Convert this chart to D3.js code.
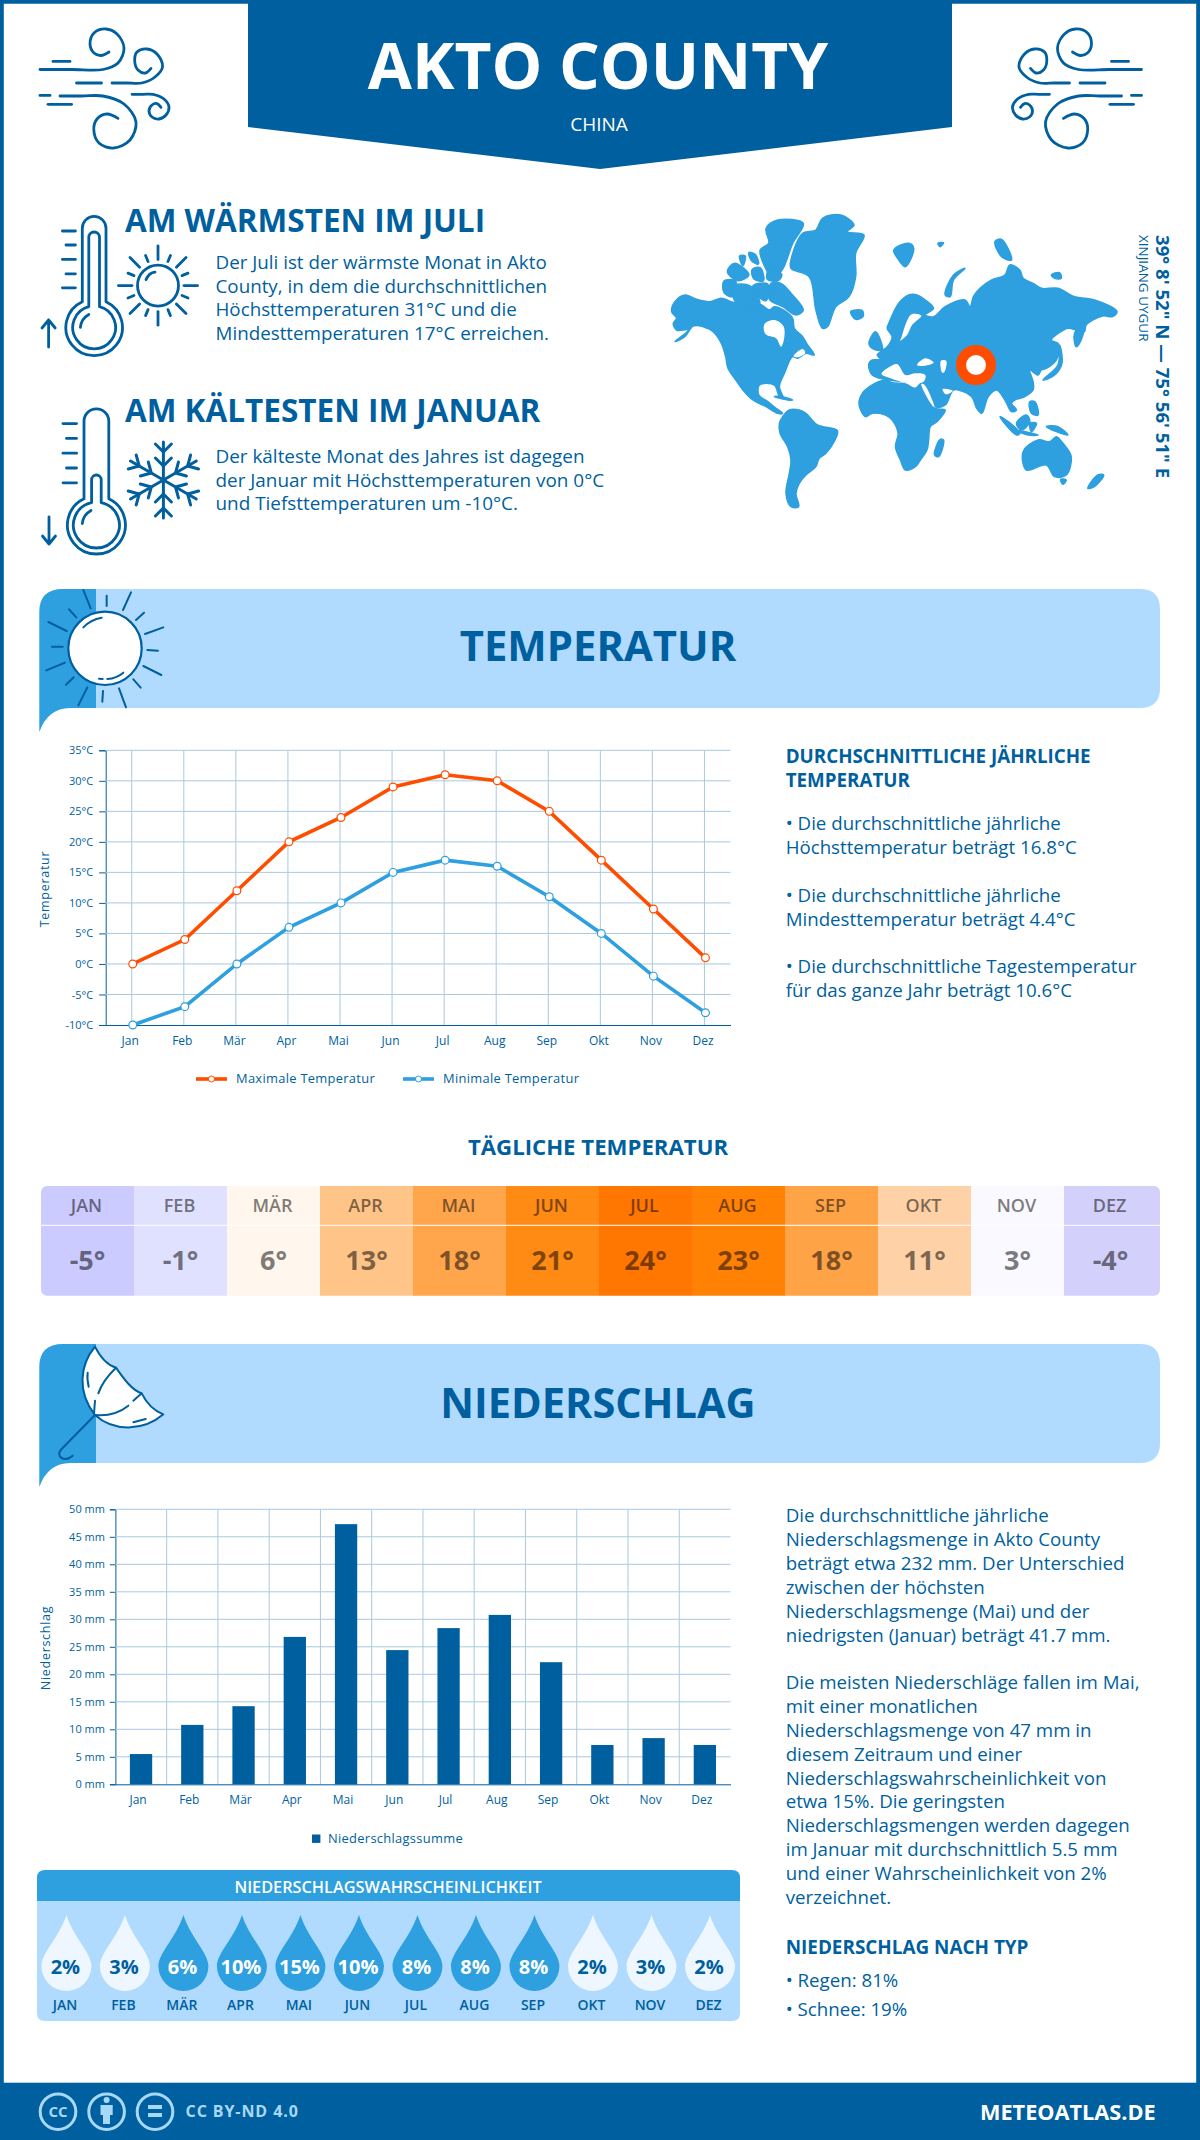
<!DOCTYPE html>
<html><head><meta charset="utf-8">
<script src="https://cdn.jsdelivr.net/npm/d3@7/dist/d3.min.js"></script>
<style>
html,body{margin:0;padding:0;background:#fff}
svg{display:block}
text{font-family:"Open Sans",sans-serif}
</style></head><body>
<svg id="c" width="1200" height="2140" viewBox="0 0 1200 2140"></svg>
<script>
// ---------- data ----------
const monthsShort = ["Jan","Feb","Mär","Apr","Mai","Jun","Jul","Aug","Sep","Okt","Nov","Dez"];
const monthsUpper = ["JAN","FEB","MÄR","APR","MAI","JUN","JUL","AUG","SEP","OKT","NOV","DEZ"];
const tempMax = [0,4,12,20,24,29,31,30,25,17,9,1];
const tempMin = [-10,-7,0,6,10,15,17,16,11,5,-2,-8];
const tempTicks = [-10,-5,0,5,10,15,20,25,30,35];
const dailyTemp = [-5,-1,6,13,18,21,24,23,18,11,3,-4];
const dailyColors = ["#cccbff","#e0e0ff","#fff6ed","#ffc488","#ffa64d","#ff8a14","#ff7700","#ff8205","#ffa347","#ffd1a6","#f9f9ff","#d3d1fc"];
const precip = [5.5,10.8,14.2,26.8,47.3,24.4,28.4,30.8,22.2,7.15,8.4,7.15];
const precipTicks = [0,5,10,15,20,25,30,35,40,45,50];
const precipProb = [2,3,6,10,15,10,8,8,8,2,3,2];
const warmLines = ["Der Juli ist der wärmste Monat in Akto","County, in dem die durchschnittlichen","Höchsttemperaturen 31°C und die","Mindesttemperaturen 17°C erreichen."];
const coldLines = ["Der kälteste Monat des Jahres ist dagegen","der Januar mit Höchsttemperaturen von 0°C","und Tiefsttemperaturen um -10°C."];
const tempText = [["• Die durchschnittliche jährliche",830],["Höchsttemperatur beträgt 16.8°C",854],["• Die durchschnittliche jährliche",901.7],["Mindesttemperatur beträgt 4.4°C",925.7],["• Die durchschnittliche Tagestemperatur",972.7],["für das ganze Jahr beträgt 10.6°C",996.7]];
const rainText = [["Die durchschnittliche jährliche",1522.4],["Niederschlagsmenge in Akto County",1546.2],["beträgt etwa 232 mm. Der Unterschied",1570],["zwischen der höchsten",1594],["Niederschlagsmenge (Mai) und der",1617.8],["niedrigsten (Januar) beträgt 41.7 mm.",1641.6],
["Die meisten Niederschläge fallen im Mai,",1689.4],["mit einer monatlichen",1713.2],["Niederschlagsmenge von 47 mm in",1737],["diesem Zeitraum und einer",1760.8],["Niederschlagswahrscheinlichkeit von",1784.6],["etwa 15%. Die geringsten",1808.4],["Niederschlagsmengen werden dagegen",1832.2],["im Januar mit durchschnittlich 5.5 mm",1856],["und einer Wahrscheinlichkeit von 2%",1879.8],["verzeichnet.",1903.6],
["• Regen: 81%",1986.5],["• Schnee: 19%",2015.5]];

const BLUE="#005f9e", MID="#2e9fdf", LIGHT="#b0dbff", ORANGE="#ff4d00", GRID="#a9c9e0";
const svg=d3.select("#c");
svg.append("rect").attr("width",1200).attr("height",2140).attr("fill","#fff");
const T=(g,x,y,s,size,w,fill,anchor)=>g.append("text").attr("x",x).attr("y",y).text(s).attr("font-size",size).attr("font-weight",w||400).attr("fill",fill||BLUE).attr("text-anchor",anchor||"start");

// ---------- frame & header ----------
svg.append("path").attr("d","M1.9,2140V1.9H1198.1V2140").attr("fill","none").attr("stroke",BLUE).attr("stroke-width",3.8);
svg.append("path").attr("d","M248,0H952V127L600,169L248,127Z").attr("fill",BLUE);
T(svg,598,88.8,"AKTO COUNTY",64,700,"#fff","middle");
T(svg,599,130.5,"CHINA",19,400,"#fff","middle");

// ---------- icons ----------
const curve=d3.line().curve(d3.curveCatmullRom.alpha(.5));
function stroke(g,d,w){return g.append("path").attr("d",d).attr("fill","none").attr("stroke",BLUE).attr("stroke-width",w||2.8).attr("stroke-linecap","round").attr("stroke-linejoin","round");}
function wind(g){
 [[[40,69.5],[72,69.5],[103,69.5],[118,63],[124,48],[117,34],[106,29],[94,33],[90,44],[94,53],[101,55.5],[109,52]],
  [[112,83],[127,83],[141.6,83],[155,77],[162.6,66.6],[157,54],[147,49],[137,52],[134.7,61],[138,70],[145.4,73],[151,68.4]],
  [[60,96],[82,96],[103,96],[124,104],[136,122],[130,140],[113.6,148],[99,143],[93.8,129.5],[97,119],[107,114],[118,118.4]],
  [[132,94.3],[143,94.3],[153,94.3],[164,99],[169,107],[166,115],[159,119],[152,117],[149,111],[152,105],[157,103.6],[161,107.3]],
  [[53,61.4],[70,61.4]],[[76.5,83],[101.5,83]],[[40,95.4],[50,95.4]],[[48,104.3],[71.6,104.3]]
 ].forEach(p=>stroke(g,curve(p)));
}
wind(svg.append("g"));
wind(svg.append("g").attr("transform","translate(1181.5,0) scale(-1,1)"));

function thermo(g,cx,cy,R,r,hw,hwi,top,itop,cxo){
 const dy=Math.sqrt(R*R-hw*hw), dyi=Math.sqrt(r*r-hwi*hwi), tx=cx+(cxo||0);
 stroke(g,`M${tx-hw},${cy-dy}V${top+hw}A${hw},${hw} 0 0 1 ${tx+hw},${top+hw}V${cy-dy}A${R},${R} 0 1 1 ${tx-hw},${cy-dy}`);
 stroke(g,`M${tx-hwi},${cy-dyi}V${itop+hwi}A${hwi},${hwi} 0 0 1 ${tx+hwi},${itop+hwi}V${cy-dyi}A${r},${r} 0 1 1 ${tx-hwi},${cy-dyi}`);
}
thermo(svg,93.8,327.4,28.3,21.4,11.85,5.35,216.4,232,.35);
stroke(svg,"M88.8,314.5Q81,319 80.4,327.4");
[[62.4,231],[66,245],[62.4,259.4],[66,273.8],[62.4,287.8]].forEach(d=>stroke(svg,`M${d[0]},${d[1]}H75.4`));
stroke(svg,"M48.6,347V320M42,328L48.6,320L55.2,328");
// small sun
(function(){const g=svg.append("g").attr("transform","translate(158,285.6)");
 g.append("circle").attr("r",20.5).attr("fill","none").attr("stroke",BLUE).attr("stroke-width",2.8);
 stroke(g,"M-12,-6Q-9,-13 -3,-13.5");
 d3.range(16).forEach(i=>{const a=i*Math.PI/8,l=i%2==0;const r1=26,r2=l?39.6:32.5;
  stroke(g,`M${r1*Math.cos(a)},${r1*Math.sin(a)}L${r2*Math.cos(a)},${r2*Math.sin(a)}`);});
})();
thermo(svg,96.4,525,29,23,12.4,4.8,408.8,475,0);
stroke(svg,"M91,510.5Q83,515 82.3,523.5");
[[63,423.6],[66.5,438.4],[63,453.2],[66.5,468],[63,482.8]].forEach(d=>stroke(svg,`M${d[0]},${d[1]}H76.5`));
stroke(svg,"M49,517V544M42.5,536L49,544L55.5,536");
// snowflake
(function(){const g=svg.append("g").attr("transform","translate(163.4,480)");
 d3.range(6).forEach(i=>{const a=g.append("g").attr("transform",`rotate(${i*60})`);
  stroke(a,"M0,0V-38",3);stroke(a,"M-8,-36L0,-28L8,-36",3);stroke(a,"M-8,-22L0,-14L8,-22",3);});
})();

// ---------- warm / cold texts ----------
T(svg,125,231.6,"AM WÄRMSTEN IM JULI",31.5,700);
warmLines.forEach((s,i)=>T(svg,215.5,269+i*23.6,s,18.8));
T(svg,125,421.7,"AM KÄLTESTEN IM JANUAR",31.5,700);
coldLines.forEach((s,i)=>T(svg,215.5,463+i*23.5,s,18.9));

// ---------- world map (traced outlines, zoom-image coordinates) ----------
const landNA=[[35,335],[45,305],[75,285],[110,298],[150,305],[185,295],[215,305],[245,312],[300,312],[330,330],[345,320],[372,330],[400,355],[405,385],[430,410],[445,435],[465,465],[440,460],[415,475],[400,470],[375,520],[360,560],[372,595],[360,590],[345,555],[300,555],[298,585],[325,605],[350,625],[370,640],[355,640],[320,620],[280,600],[250,570],[225,535],[205,505],[198,470],[185,430],[160,395],[130,380],[100,378],[75,410],[45,425],[85,390],[50,390],[40,370],[50,355]];
const landArctic=[[[335,250],[365,250],[395,280],[432,330],[410,345],[370,320],[330,298]],[[320,85],[355,60],[432,70],[400,130],[368,210],[340,232],[302,150],[328,130]],[[193,243],[228,243],[218,290],[193,278]],[[220,258],[272,258],[300,312],[230,308]],[[203,215],[225,190],[268,225],[235,242]],[[278,208],[302,203],[312,242],[283,237]],[[328,210],[367,223],[357,242],[323,237]],[[280,258],[325,252],[320,302],[300,292]],[[240,168],[257,168],[250,197]],[[268,158],[287,163],[297,192],[276,182]]];
const landGreen=[[395,180],[430,100],[470,90],[490,55],[545,45],[585,75],[565,95],[615,105],[590,160],[590,230],[570,290],[530,320],[505,380],[490,385],[470,330],[450,230],[395,205]];
const landSA=[[360,670],[370,650],[390,630],[420,630],[440,640],[475,675],[535,692],[525,725],[500,760],[480,775],[470,800],[440,825],[420,850],[410,880],[418,920],[395,920],[380,880],[390,820],[395,780],[385,740],[362,700]];
const landAfrica=[[600,605],[610,580],[640,555],[680,540],[700,548],[740,552],[770,565],[790,548],[810,590],[830,625],[860,630],[835,665],[815,680],[810,720],[805,750],[785,780],[770,800],[740,810],[725,780],[710,740],[718,700],[700,660],[680,645],[640,640],[620,650],[605,630]];
const landEurasia=[[630,490],[640,480],[665,478],[655,465],[680,445],[690,435],[700,410],[685,385],[690,370],[720,310],[750,285],[775,285],[800,300],[825,325],[800,345],[825,350],[860,320],[920,300],[935,320],[945,290],[965,265],[1000,240],[1040,225],[1055,195],[1085,210],[1095,235],[1125,250],[1150,265],[1200,265],[1250,290],[1310,300],[1378,335],[1365,350],[1335,348],[1285,375],[1280,395],[1255,390],[1230,385],[1180,420],[1200,430],[1205,450],[1195,480],[1165,505],[1150,510],[1140,525],[1115,510],[1125,545],[1125,570],[1100,590],[1070,600],[1060,610],[1075,630],[1060,635],[1040,600],[1015,570],[990,590],[970,640],[955,625],[940,590],[915,575],[885,570],[860,615],[830,620],[800,560],[790,545],[735,545],[640,525]];
const landIslands=[[[630,430],[650,395],[670,450],[640,445]],[[860,285],[885,225],[920,205],[885,240],[875,290]],[[705,150],[750,130],[765,145],[740,200],[720,180]],[[838,130],[855,128],[845,140]],[[1010,125],[1030,118],[1060,180],[1030,170]],[[1180,225],[1205,218],[1210,235],[1190,235]],[[1250,400],[1280,370],[1270,420],[1255,440]],[[1155,540],[1200,495],[1205,435],[1212,490],[1190,525]],[[575,335],[610,332],[612,350],[590,358]],[[845,718],[855,720],[840,770],[828,765]],[[1025,650],[1050,665],[1085,700],[1075,705]],[[1075,670],[1105,645],[1115,665],[1090,690]],[[1070,690],[1140,705],[1110,705]],[[1165,680],[1200,680],[1230,705],[1195,695]],[[1115,605],[1130,605],[1140,645],[1120,640]],[[1115,670],[1135,670],[1120,695]],[[1095,755],[1140,720],[1175,725],[1195,710],[1215,730],[1240,770],[1225,825],[1190,830],[1165,795],[1105,810]],[[1208,838],[1225,840],[1215,853]],[[1290,865],[1320,825],[1338,825],[1310,860]],[[345,590],[385,600],[400,600],[370,590]]];
const waters=[[[315,372],[345,360],[372,378],[375,410],[365,440],[350,415],[318,402]],[[775,495],[800,475],[825,488],[790,498]],[[847,482],[863,482],[858,515],[851,518]],[[668,522],[690,502],[715,492],[740,525],[770,520],[800,525],[795,545],[740,548],[695,535]],[[788,552],[798,555],[828,622],[815,608]],[[852,567],[883,572],[862,583]],[[728,412],[745,362],[760,342],[788,347],[760,375],[745,405],[724,422]],[[403,468],[430,447],[438,458],[415,472]]];
const mapX=d3.scaleLinear().domain([0,1568]).range([660,1180]), mapY=d3.scaleLinear().domain([0,960]).range([200,520]);
const mapLine=d3.line().x(d=>mapX(d[0])).y(d=>mapY(d[1])).curve(d3.curveCatmullRomClosed.alpha(.5));
const gm=svg.append("g");
[landNA,...landArctic,landGreen,landSA,landAfrica,landEurasia,...landIslands].forEach(p=>gm.append("path").attr("d",mapLine(p)).attr("fill",MID).attr("stroke",MID).attr("stroke-width",1.5).attr("stroke-linejoin","round"));
waters.forEach(p=>gm.append("path").attr("d",mapLine(p)).attr("fill","#fff"));
gm.append("circle").attr("cx",976).attr("cy",365).attr("r",15).attr("fill","#fff").attr("stroke",ORANGE).attr("stroke-width",10);
T(svg.append("g").attr("transform","translate(1156,235) rotate(90)"),0,0,"39° 8' 52\" N — 75° 56' 51\" E",18.6,700);
T(svg.append("g").attr("transform","translate(1139,235) rotate(90)"),0,0,"XINJIANG UYGUR",13.5,400);

// ---------- banners ----------
function banner(top,title,base,size){
 const bot=top+119;
 svg.append("path").attr("d",`M96,${top}H1140Q1160,${top} 1160,${top+20}V${bot-20}Q1160,${bot} 1140,${bot}H96Z`).attr("fill",LIGHT);
 svg.append("path").attr("d",`M39.3,${top+23}Q39.3,${top} 63,${top}H96V${bot}H70Q48,${bot} 39.3,${bot+24}Z`).attr("fill",MID);
 T(svg,598,base,title,size,700,BLUE,"middle");
}
banner(589,"TEMPERATUR",661,41.8);
banner(1344,"NIEDERSCHLAG",1418.3,41.5);
// banner sun
(function(){const Z=(x,y)=>[30+x/3,580+y/3];
 svg.append("circle").attr("cx",105).attr("cy",648.3).attr("r",36.7).attr("fill","#fff").attr("stroke",BLUE).attr("stroke-width",2.2);
 [[160,30,182,85],[230,47,230,78],[303,37,279,90],[342,98,318,120],[400,142,345,162],[352,210,384,212],[340,258,394,285],[310,298,332,323],[267,325,288,382],[219,333,217,365],[172,322,145,376],[131,292,108,314],[105,248,49,271],[98,200,66,200],[110,153,55,126],[139,112,117,88]]
 .forEach(r=>{const a=Z(r[0],r[1]),b=Z(r[2],r[3]);stroke(svg,`M${a}L${b}`,2);});
 stroke(svg,`M${Z(160,142)}Q${Z(183,118)} ${Z(215,113)}`,2);
 stroke(svg,`M${Z(232,297)}Q${Z(260,295)} ${Z(280,278)}`,2);
 stroke(svg,`M${Z(207,296)}L${Z(218,297)}`,2);
})();
// banner umbrella
(function(){const Z=(x,y)=>[30+x/3,1335+y/3];
 const pts=s=>s.replace(/(-?\d+),(-?\d+)/g,(m,a,b)=>Z(+a,+b).join(","));
 svg.append("path").attr("d",pts("M195,35C150,90 140,170 195,240C250,290 340,290 400,238C365,225 345,195 335,175C305,165 280,130 258,98C230,90 210,65 195,35Z")).attr("fill","#fff").attr("stroke",BLUE).attr("stroke-width",2).attr("stroke-linejoin","round");
 ["M258,98C235,120 215,145 205,175","M335,175L310,197","M295,212C270,232 235,243 197,240","M195,197L192,235","M173,113C171,127 173,142 176,155","M310,262L347,252","M195,240L92,345C78,362 100,385 128,362"]
 .forEach(d=>stroke(svg,pts(d),2));
})();

// ---------- temperature chart ----------
const gT=svg.append("g");
const xT=d3.scalePoint().domain(monthsShort).range([105.7,730.5]).padding(.5);
const yT=d3.scaleLinear().domain([-10,35]).range([1025,750.3]);
gT.append("g").attr("transform","translate(105.7,0)")
  .call(d3.axisLeft(yT).tickValues(tempTicks).tickSize(6.5).tickPadding(4).tickFormat(d=>d+"°C"))
  .call(g=>{g.selectAll("text").attr("font-size",11).attr("fill",BLUE).attr("font-family","Open Sans").attr("dx",-2);
            g.selectAll("line").attr("stroke",BLUE);g.select(".domain").attr("stroke",BLUE);});
gT.append("g").selectAll("line").data(tempTicks.filter(d=>d>-10)).join("line").attr("x1",105.7).attr("x2",730.5).attr("y1",d=>yT(d)).attr("y2",d=>yT(d)).attr("stroke",GRID);
gT.append("g").selectAll("line").data(monthsShort).join("line").attr("x1",d=>xT(d)).attr("x2",d=>xT(d)).attr("y1",750.3).attr("y2",1025).attr("stroke",GRID);
gT.append("g").attr("transform","translate(0,1025)")
  .call(d3.axisBottom(xT).tickSize(0).tickPadding(11))
  .call(g=>{g.selectAll("text").attr("font-size",12).attr("fill",BLUE).attr("font-family","Open Sans").attr("dx",-2);
            g.select(".domain").attr("stroke",BLUE);});
const lineT=d3.line().x((d,i)=>xT(monthsShort[i])+1).y(d=>yT(d));
[[tempMax,ORANGE],[tempMin,MID]].forEach(([s,c])=>{
 gT.append("path").attr("d",lineT(s)).attr("fill","none").attr("stroke",c).attr("stroke-width",3.6);
 gT.append("g").selectAll("circle").data(s).join("circle").attr("cx",(d,i)=>xT(monthsShort[i])+1).attr("cy",d=>yT(d)).attr("r",3.9).attr("fill","#fff").attr("stroke",c).attr("stroke-width",1.2);
});
T(svg.append("g").attr("transform","translate(49,889) rotate(-90)"),0,0,"Temperatur",12.5,400,BLUE,"middle").attr("letter-spacing",.7);
[[196,236,"Maximale Temperatur",ORANGE],[403,443,"Minimale Temperatur",MID]].forEach(([x,tx,s,c])=>{
 gT.append("line").attr("x1",x).attr("x2",x+31).attr("y1",1079).attr("y2",1079).attr("stroke",c).attr("stroke-width",3.6);
 gT.append("circle").attr("cx",x+15.5).attr("cy",1079).attr("r",3).attr("fill","#fff").attr("stroke",c);
 T(gT,tx,1083,s,12.9).attr("letter-spacing",.3);
});
// right text temp
T(svg,785.7,763.3,"DURCHSCHNITTLICHE JÄHRLICHE",18.8,700);
T(svg,785.7,787.3,"TEMPERATUR",18.8,700);
tempText.forEach(d=>T(svg,785.7,d[1],d[0],18.7));

// ---------- daily heat strip ----------
T(svg,598,1155,"TÄGLICHE TEMPERATUR",22.2,700,BLUE,"middle");
const xH=d3.scaleBand().domain(monthsUpper).range([41,1157]);
svg.append("clipPath").attr("id","hc").append("rect").attr("x",41).attr("y",1186).attr("width",1119).attr("height",109.7).attr("rx",6);
const gH=svg.append("g").attr("clip-path","url(#hc)");
gH.selectAll("rect").data(monthsUpper).join("rect").attr("x",d=>xH(d)).attr("y",1186).attr("width",(d,i)=>xH.bandwidth()+(i==11?3:.5)).attr("height",110).attr("fill",(d,i)=>dailyColors[i]);
gH.append("line").attr("x1",41).attr("x2",1160).attr("y1",1225.3).attr("y2",1225.3).attr("stroke","#fff");
monthsUpper.forEach((m,i)=>{
 const cx=xH(m)+xH.bandwidth()/2;
 T(svg,cx-1,1211.7,m,18,600,"#000","middle").attr("opacity",.5);
 T(svg,cx,1270,dailyTemp[i]+"°",27,700,"#000","middle").attr("opacity",.5);
});

// ---------- precipitation chart ----------
const gP=svg.append("g");
const xP=d3.scaleBand().domain(monthsShort).range([115.4,730.5]).paddingInner(.565).paddingOuter(.2825);
const yP=d3.scaleLinear().domain([0,50]).range([1784.3,1509.3]);
gP.append("g").attr("transform","translate(115.4,0)")
  .call(d3.axisLeft(yP).tickValues(precipTicks).tickSize(5.5).tickPadding(4).tickFormat(d=>d+" mm"))
  .call(g=>{g.selectAll("text").attr("font-size",11).attr("fill",BLUE).attr("font-family","Open Sans").attr("dx",-1);
            g.selectAll("line").attr("stroke",BLUE);g.select(".domain").attr("stroke",BLUE);});
gP.append("g").selectAll("line").data(precipTicks.filter(d=>d>0)).join("line").attr("x1",115.4).attr("x2",730.5).attr("y1",d=>yP(d)).attr("y2",d=>yP(d)).attr("stroke",GRID);
gP.append("g").selectAll("line").data(monthsShort.slice(0,11)).join("line").attr("x1",d=>xP(d)+xP.bandwidth()/2+xP.step()/2).attr("x2",d=>xP(d)+xP.bandwidth()/2+xP.step()/2).attr("y1",1509.3).attr("y2",1784.3).attr("stroke",GRID);
gP.append("g").selectAll("rect").data(precip).join("rect").attr("x",(d,i)=>xP(monthsShort[i])).attr("width",xP.bandwidth()).attr("y",d=>yP(d)).attr("height",d=>yP(0)-yP(d)).attr("fill",BLUE);
gP.append("g").attr("transform","translate(0,1784.3)")
  .call(d3.axisBottom(xP).tickSize(0).tickPadding(11))
  .call(g=>{g.selectAll("text").attr("font-size",12).attr("fill",BLUE).attr("font-family","Open Sans").attr("dx",-3);
            g.select(".domain").attr("stroke",BLUE);});
T(svg.append("g").attr("transform","translate(50,1648) rotate(-90)"),0,0,"Niederschlag",12.5,400,BLUE,"middle").attr("letter-spacing",.7);
gP.append("rect").attr("x",312).attr("y",1834.5).attr("width",8.4).attr("height",8.4).attr("fill",BLUE);
T(gP,328,1842.7,"Niederschlagssumme",12.9).attr("letter-spacing",.3);

// ---------- probability panel ----------
svg.append("path").attr("d","M37,1901V1878Q37,1870 45,1870H732Q740,1870 740,1878V1901Z").attr("fill",MID);
svg.append("path").attr("d","M37,1901H740V2013Q740,2021 732,2021H45Q37,2021 37,2013Z").attr("fill",LIGHT);
T(svg,388,1893,"NIEDERSCHLAGSWAHRSCHEINLICHKEIT",16.3,600,"#fff","middle");
const xD=d3.scalePoint().domain(monthsUpper).range([66.4,710]);
const dropFill=d3.scaleThreshold().domain([5]).range(["#eef7ff",MID]);
const dropText=d3.scaleThreshold().domain([5]).range([BLUE,"#fff"]);
const gD=svg.append("g").selectAll("g").data(monthsUpper).join("g").attr("transform",d=>`translate(${xD(d)},1915)`);
gD.append("path").attr("d","M0,0C7,22 25,38 25,51A25,25 0 0 1 -25,51C-25,38 -7,22 0,0Z").attr("fill",(d,i)=>dropFill(precipProb[i]));
gD.append("text").attr("x",-1).attr("y",58.5).attr("text-anchor","middle").attr("font-size",20).attr("font-weight",700).attr("fill",(d,i)=>dropText(precipProb[i])).text((d,i)=>precipProb[i]+"%");
gD.append("text").attr("x",-1.5).attr("y",95).attr("text-anchor","middle").attr("font-size",14).attr("font-weight",600).attr("fill",BLUE).text(d=>d);

// ---------- right text rain ----------
rainText.forEach(d=>T(svg,785.7,d[1],d[0],18.7));
T(svg,785.7,1954,"NIEDERSCHLAG NACH TYP",18.9,700);

// ---------- footer ----------
svg.append("rect").attr("y",2082.7).attr("width",1200).attr("height",57.3).attr("fill",BLUE);
const FC="#a8d8f8";
[58,106.6,155].forEach(cx=>svg.append("circle").attr("cx",cx).attr("cy",2111.7).attr("r",17.8).attr("fill","none").attr("stroke",FC).attr("stroke-width",3));
T(svg,58,2117,"CC",15,700,FC,"middle");
svg.append("circle").attr("cx",106.6).attr("cy",2100).attr("r",3).attr("fill",FC);
svg.append("path").attr("d","M100.5,2105H112.7V2115H110V2124H103V2115H100.5Z").attr("fill",FC);
svg.append("rect").attr("x",148).attr("y",2105).attr("width",14).attr("height",4).attr("fill",FC);
svg.append("rect").attr("x",148).attr("y",2113).attr("width",14).attr("height",4).attr("fill",FC);
T(svg,185.6,2117,"CC BY-ND 4.0",16,700,FC).attr("letter-spacing",.9);
T(svg,980,2119.6,"METEOATLAS.DE",21.7,700,"#fff");
</script>
</body></html>
